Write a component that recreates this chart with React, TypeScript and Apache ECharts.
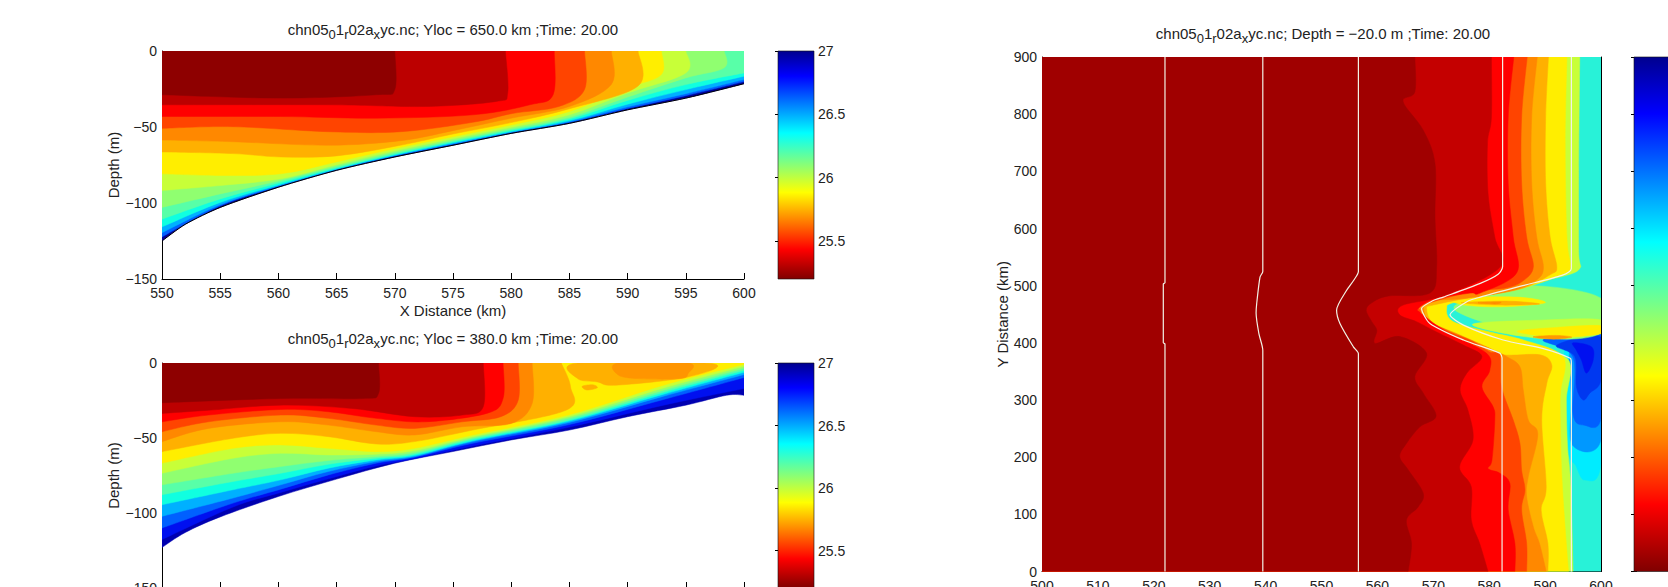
import React, { useEffect, useRef } from "react";
import * as echarts from "echarts";

type Pt = number[];

// Shared contour-level colours (jet, reversed, as in the reference colour bar)
const C = {
  dark: "#8e0000", dark3: "#a00000", maroon: "#bc0000", red: "#ff0000", redOrange: "#ff4400",
  orange: "#ff8800", amber: "#ffb000", yellow: "#ffee00", lime: "#c8ff38", green: "#90ff70",
  sea: "#58ffa8", aqua: "#10ffe0", sky: "#00b0ff", blue: "#0060ff", deep: "#0010f0", navy: "#00009a",
};
const colorbarStops: [number, string][] = [
  [0, "#00008f"], [0.11, "#0000ff"], [0.36, "#00ffff"], [0.62, "#ffff00"], [0.87, "#ff0000"], [1, "#800000"],
];

const cbTicks = [25.5, 26, 26.5, 27];
const cbTicks3 = [25.2, 25.4, 25.6, 25.8, 26, 26.2, 26.4, 26.6, 26.8, 27];

// Panel 1 (Yloc = 650 km): sea floor and isotherms, km / m
const p1Bottom: Pt[] = [[600,-21.5],[595,-31],[590,-38.7],[585,-47.6],[580,-54.2],[575,-62],[570,-69.7],[565,-78.5],[560,-89.6],[555,-102.9],[552,-114],[550,-125]];
const p1Blue: Pt[] = [[600,-20.1],[595,-29.4],[590,-37.8],[585,-47.1],[580,-53.8],[575,-61.5],[570,-69.2],[565,-78.1],[560,-89.2],[555,-102],[550,-122.3]];
const p1Sky: Pt[] = [[600,-18.8],[595,-28.1],[590,-36.7],[585,-46.5],[580,-53.5],[575,-61.1],[570,-68.8],[565,-77.9],[560,-88.7],[555,-101.1],[550,-119.5]];
const p1Aqua: Pt[] = [[600,-16.6],[595,-25.4],[590,-35],[585,-45.8],[580,-52.9],[575,-60.4],[570,-68.4],[565,-77.4],[560,-88.1],[555,-99.6],[550,-115.7]];
const p1Sea: Pt[] = [[600,-14.4],[595,-22.1],[590,-32.5],[585,-44.7],[580,-52.2],[575,-59.7],[570,-67.7],[565,-76.8],[560,-86.9],[555,-97.3],[550,-110.6]];
const p1Green: Pt[] = [[598.3,0],[598.3,-11],[595,-17.7],[590,-30.3],[585,-43.6],[580,-51.3],[575,-58.8],[570,-66.8],[565,-75.9],[560,-85.6],[555,-94],[550,-102.9]];
const p1Lime: Pt[] = [[595,0],[595,-14.4],[590,-27.7],[585,-42],[580,-50.2],[575,-57.7],[570,-65.7],[565,-74.8],[560.2,-84.1],[555,-88.5],[550,-91.8]];
const p1Yellow: Pt[] = [[592.9,0],[592.9,-15.5],[590,-24.3],[585,-39.8],[580,-48.7],[575,-56.4],[570,-64.2],[565,-73],[560.2,-80.8],[555,-81.9],[550,-80.8]];
const p1Amber: Pt[] = [[590.9,0],[590.9,-23],[585,-38],[580,-47.1],[575,-54.6],[570.5,-62],[565,-69],[560.2,-69.7],[556.1,-67.5],[550,-66.4]];
const p1Orange: Pt[] = [[588.6,0],[588.6,-22],[585,-36.5],[580,-44.2],[575,-52.4],[570.5,-59],[564.3,-62],[556.1,-59.7],[550,-58.6]];
const p1RedOrange: Pt[] = [[586.3,0],[586.3,-25.4],[584.1,-36.5],[580.1,-41.1],[576.7,-46.9],[570.5,-53.1],[564.3,-53.1],[556.1,-49.8],[550,-50.9]];
const p1Red: Pt[] = [[583.7,0],[583.6,-28.8],[581.6,-35.4],[576.7,-42],[568.4,-44.2],[560.2,-43.1],[550,-43.1]];
const p1Maroon: Pt[] = [[579.5,0],[579.7,-27.7],[578.7,-33.2],[572.6,-36.5],[564.3,-35.4],[550,-35.4]];
const p1Dark: Pt[] = [[570,0],[570,-25.4],[568.4,-28.8],[560.2,-31],[550,-28.8]];

// Panel 2 (Yloc = 380 km)
const p2Bottom: Pt[] = [[600,-21.5],[598.5,-21.5],[595,-28.1],[590,-35.8],[585,-44.7],[580,-51.3],[575,-59],[570,-66.8],[565,-77.4],[560,-89],[555,-102.6],[552,-113],[550,-123]];
const p2Deep: Pt[] = [[600,-17],[593.1,-28.1],[584.9,-42.9],[576.7,-55.3],[571.7,-63.7],[568.4,-68.6],[564.3,-77.2],[560.2,-86.3],[556.1,-96],[550,-117.7]];
const p2Blue: Pt[] = [[600,-9.7],[593.1,-24.3],[584.9,-41.2],[576.7,-53.5],[571.7,-62.8],[568.4,-66.8],[564.3,-74.6],[560.2,-84.1],[556.1,-93.4],[550,-110]];
const p2Sky: Pt[] = [[600,-7.7],[593.1,-22.1],[584.9,-39.8],[576.7,-52.4],[571.7,-62.4],[568.4,-65.7],[564.3,-72.3],[560.2,-81.2],[556.1,-90],[550,-102.2]];
const p2Aqua: Pt[] = [[600,-6.2],[593.1,-20.8],[584.9,-38.9],[576.7,-51.8],[571.7,-61.7],[568.4,-64.6],[564.3,-70.1],[560.2,-77.9],[556.1,-84.5],[550,-94.5]];
const p2Sea: Pt[] = [[600,-4.9],[593.1,-19.5],[584.9,-38.1],[576.7,-50.9],[571.7,-60.8],[568.4,-63.5],[564.3,-67.5],[560.2,-73.5],[556.1,-79],[550,-87.8]];
const p2Green: Pt[] = [[600,-3.5],[593.1,-18.1],[584.9,-36.9],[576.7,-50],[571.7,-59.7],[568.4,-62.4],[564.3,-65],[560.2,-69],[556.1,-73.5],[550,-81.2]];
const p2Lime: Pt[] = [[600,-2.2],[593.1,-16.6],[584.9,-35.8],[576.7,-49.1],[571.7,-58.4],[568.4,-60.8],[564.3,-61.3],[560.2,-60.2],[556.1,-63.5],[550,-73.5]];
const p2Yellow: Pt[] = [[600,-0.9],[593.1,-14.8],[584.9,-34.7],[576.7,-48],[571.7,-56.9],[568.4,-59.1],[564.3,-56.9],[560.2,-54.6],[556.1,-56.9],[550,-66.8]];
const p2Amber: Pt[] = [[584.3,0],[585.1,-15.9],[584.7,-31.5],[576.7,-44.7],[571.7,-52.4],[568.4,-54],[564.3,-49.1],[560.2,-46.9],[556.1,-50.2],[550,-59.1]];
const p2Orange: Pt[] = [[581.8,0],[581.8,-27],[580,-40.3],[575.8,-42.5],[571.7,-48],[568.4,-45.8],[564.3,-41.4],[560.2,-39.2],[554,-43.6],[550,-52.4]];
const p2RedOrange: Pt[] = [[580.6,0],[580.6,-24.8],[579.1,-35.8],[575.8,-39.2],[571.7,-43.6],[568.4,-41.4],[564.3,-36.9],[560.2,-34.7],[554,-39.2],[550,-45.8]];
const p2Red: Pt[] = [[579.3,0],[579.3,-23.7],[577.9,-33.6],[572.6,-39.2],[568.4,-36.9],[564.3,-32.5],[560.2,-31],[554,-34.7],[550,-39.2]];
const p2Maroon: Pt[] = [[577.6,0],[577.6,-29.2],[575.8,-34.7],[571.7,-35.8],[566.3,-30.3],[560.2,-28.1],[554,-31.5],[550,-33.6]];
const p2Dark: Pt[] = [[568.6,0],[568.6,-20.4],[567.2,-23.7],[560.2,-23.7],[550,-26.5]];
const p2AmberRight: Pt[] = [[585.7,0],[585.7,-10.4],[587.4,-12.6],[589,-14.8],[595.2,-9.3],[597.2,-0.4]];
const p2OrangeBlob: Pt[] = [[589.2,0],[589.2,-8],[591,-10.4],[594.5,-10.4],[595.2,-7],[595.2,0]];
const p2AmberIslet: Pt[] = [[586.1,-15.5],[587,-14.5],[587.4,-16.5],[586.5,-18]];

// Panel 3 (Depth = -20 m): isotherm plan view, km / km
const p3Water: Pt[] = [[500,900],[600,900]];
const p3Aqua: Pt[] = [[593.6,390],[600,414],[600,189],[597.1,160],[595.5,185],[594,221]];
const p3Sky: Pt[] = [[594.7,400],[600,414],[600,230],[594.9,221],[594.7,300]];
const p3Blue: Pt[] = [[589.7,406],[600,414],[600,268],[597,256],[595,275],[595,375]];
const p3Deep: Pt[] = [[592.1,396],[600,410],[600,335],[598,312],[596.8,300],[595.6,323],[595.3,376]];
const p3Navyish: Pt[] = [[595,400],[598.3,393],[598.6,370],[597.4,347],[596.5,370],[595.6,387]];
const p3TongueGreen: Pt[] = [[587.3,500],[600,478],[600,417],[589,410],[574.2,455],[578,480]];
const p3TongueLime: Pt[] = [[577,432],[590,440],[600,440],[600,417],[589,408]];
const p3TongueYellow: Pt[] = [[585,420],[592,427],[600,430],[600,416],[592,410]];
const p3StreakYellow: Pt[] = [[574,478],[585,480],[590,470],[582,463],[575,467]];
const p3StreakAmber: Pt[] = [[575,470],[583,473],[589,468],[582,466]];
const p3StreakOrange: Pt[] = [[578,470],[582,471],[581,468]];
const p3IsletOrange: Pt[] = [[588,411],[592,413],[594.8,410],[592,406.5],[589,408]];
const p3Lime: Pt[] = [[596.2,900],[596,700],[596,560],[596.2,530],[593,516],[586,503],[576,480],[572,470],[571,445],[578,418],[585,395],[594,372],[593.8,300],[594,221],[594.6,149],[595,0]];
const p3Yellow: Pt[] = [[593.9,900],[593.6,749],[593.9,585],[594.5,533],[593,519],[586,496],[574.2,472],[572.4,460],[573.6,437],[580.1,419],[586.1,405],[593.2,376],[592.8,317],[592.7,282],[593,166],[593.8,49],[594.2,0]];
const p3Amber: Pt[] = [[590.6,900],[590.1,795],[590.1,679],[590.9,585],[592.1,533],[590.9,519],[585.5,494],[576,478],[570,466],[568.8,460],[570,434],[574.8,413],[579.5,393],[582.5,379],[589.1,379],[591.2,361],[590.3,329],[589.4,265],[590.2,148],[589.3,107],[590.5,49],[590.5,0]];
const p3Orange: Pt[] = [[588.6,900],[587.6,795],[587.6,679],[588.5,585],[589.7,533],[588.5,510],[584.3,492],[576,478],[569.1,473],[568.3,460],[569.4,437],[574.2,416],[579.5,393],[583.1,376],[585.5,358],[586.1,317],[587,265],[588.7,240],[587,166],[586.7,131],[587.9,78],[589,49],[590.2,0]];
const p3RedOrange: Pt[] = [[586.8,900],[585.8,795],[585.8,679],[586.7,585],[587.9,533],[586,508],[583,496],[576.6,489],[568.2,466],[567.8,455],[568.2,444],[573,419],[577.2,402],[580.1,384],[581.9,379],[582.2,323],[584.3,265],[585.5,224],[585.8,177],[586.4,143],[585.8,108],[586.7,49],[586.7,0]];
const p3Red: Pt[] = [[584.4,900],[583.4,795],[583.4,679],[584.3,585],[584.9,522],[578.4,487],[576.6,487],[570,476],[567.3,460],[567.9,451],[572.4,419],[579.5,382],[580.1,352],[578.7,323],[580.7,288],[581,265],[580.5,195],[579.8,180],[581.9,172],[583.7,154],[583.4,108],[584.6,49],[584.6,0]];
const p3Maroon: Pt[] = [[580.4,900],[580.4,795],[579.7,749],[579.8,661],[581,585],[582,533],[572.4,484],[564.6,466],[564,449],[567,437],[570.6,419],[575.4,396],[578.7,376],[576,347],[574.8,317],[576.2,282],[577.1,230],[574.7,183],[576.8,148],[576.8,90],[578.3,49],[579.8,0]];
const p3Dark: Pt[] = [[566.7,900],[566.7,839],[564.6,822],[568.2,772],[570.3,714],[570.3,620],[570.6,533],[569.4,487],[562,482],[559,470],[558,457],[559,437],[559.9,422],[559.6,399],[564,411],[568.8,382],[566.7,341],[568.2,312],[570.5,272],[567.6,253],[565.2,224],[564,201],[565.5,178],[568.2,137],[567.3,113],[565.2,90],[566.1,49],[565.5,0]];

// White bathymetry contours in panel 3
const p3Line1: Pt[] = [[522,900],[522,505],[521.7,503],[521.7,400],[522,398],[522,0]];
const p3Line2: Pt[] = [[539.5,900],[539.5,525],[539,515],[538.4,468],[538.3,452],[538.8,416],[539.5,387],[539.5,0]];
const p3Line3: Pt[] = [[556.6,900],[556.6,525],[555.8,510],[554.5,492],[552.7,457],[553.3,434],[555.7,393],[556.6,381],[556.6,0]];
const p3Line4: Pt[] = [[582.4,900],[582.4,533],[581.6,520],[578.4,504],[571.8,480],[570,474],[567.9,460],[569.4,434],[575.4,405],[581.9,382],[582.3,373],[582.3,0]];
const p3Line5: Pt[] = [[594.7,900],[594.7,530],[593,518],[586,500],[578.4,480],[576,472],[573,449],[575.4,431],[582.5,405],[589.7,390],[594.5,373],[594.7,365],[594.7,0]];

const top12: Pt[] = [[550, 0]];
const top12R: Pt[] = [[550, 0], [600, 0]];
const side3: Pt[] = [[500, 0], [500, 900]];
const water3: Pt[] = [[600, 0], [500, 0]];

type Band = [Pt[], string, Pt[] | null];
const p1Bands: Band[] = [
  [p1Bottom, C.navy, top12R], [p1Blue, C.blue, top12R], [p1Sky, C.sky, top12R], [p1Aqua, C.aqua, top12R],
  [p1Sea, C.sea, top12R], [p1Green, C.green, top12], [p1Lime, C.lime, top12], [p1Yellow, C.yellow, top12],
  [p1Amber, C.amber, top12], [p1Orange, C.orange, top12], [p1RedOrange, C.redOrange, top12],
  [p1Red, C.red, top12], [p1Maroon, C.maroon, top12], [p1Dark, C.dark, top12],
];
const p2Bands: Band[] = [
  [p2Bottom, "#0000b0", top12R], [p2Deep, C.deep, top12R], [p2Blue, C.blue, top12R], [p2Sky, C.sky, top12R],
  [p2Aqua, C.aqua, top12R], [p2Sea, C.sea, top12R], [p2Green, C.green, top12R], [p2Lime, C.lime, top12R],
  [p2Yellow, C.yellow, top12R], [p2AmberRight, C.amber, null], [p2OrangeBlob, "#ff9500", null], [p2AmberIslet, C.amber, null],
  [p2Amber, C.amber, top12], [p2Orange, C.orange, top12], [p2RedOrange, C.redOrange, top12],
  [p2Red, C.red, top12], [p2Maroon, C.maroon, top12], [p2Dark, C.dark, top12],
];
const p3Bands: Band[] = [
  [p3Water, "#28f2d8", water3], [p3Aqua, "#00ecff", null], [p3Sky, "#0098ff", null], [p3Blue, C.blue, null], [p3Deep, "#0038f0", null],
  [p3Navyish, C.deep, null], [p3TongueGreen, C.green, null], [p3TongueLime, C.lime, null], [p3TongueYellow, C.yellow, null],
  [p3IsletOrange, "#ff9900", null], [p3StreakYellow, C.yellow, null], [p3StreakAmber, C.amber, null], [p3StreakOrange, C.orange, null],
  [p3Lime, C.lime, side3], [p3Yellow, C.yellow, side3], [p3Amber, C.amber, side3],
  [p3Orange, C.orange, side3], [p3RedOrange, C.redOrange, side3], [p3Red, C.red, side3],
  [p3Maroon, "#c40000", side3], [p3Dark, C.dark3, side3],
];

const FONT = "'Liberation Sans', Arial, sans-serif";
const TXT = "#222";
const FS = 14;
const NAME_FS = 15;
const minus = (v: number) => String(v).replace("-", "\u2212");

// Catmull-Rom style bezier outline through the read points; the straight closure runs along the axes.
const outline = (pix: number[][], closed: boolean, corners: number[][]) => {
  const n = pix.length;
  const at = (i: number) => (closed ? pix[(i + n) % n] : pix[Math.max(0, Math.min(n - 1, i))]);
  let d = `M${pix[0][0]} ${pix[0][1]}`;
  const k = 1 / 6;
  const segs = closed ? n : n - 1;
  for (let i = 0; i < segs; i++) {
    const p0 = at(i - 1), p1 = at(i), p2 = at(i + 1), p3 = at(i + 2);
    const c1 = [p1[0] + (p2[0] - p0[0]) * k, p1[1] + (p2[1] - p0[1]) * k];
    const c2 = [p2[0] - (p3[0] - p1[0]) * k, p2[1] - (p3[1] - p1[1]) * k];
    d += ` C${c1[0]} ${c1[1]} ${c2[0]} ${c2[1]} ${p2[0]} ${p2[1]}`;
  }
  corners.forEach((c) => { d += ` L${c[0]} ${c[1]}`; });
  return d + " Z";
};

const bandSeries = (bands: Band[], ax: number) => ({
  type: "custom", xAxisIndex: ax, yAxisIndex: ax, silent: true, clip: true,
  data: bands.map((b) => b[0][0]),
  renderItem: (params: any, api: any) => {
    const [pts, fill, corner] = bands[params.dataIndex];
    const d = outline(pts.map((p) => api.coord(p)), corner === null, (corner || []).map((p) => api.coord(p)));
    return { type: "path", shape: { pathData: d }, style: { fill, stroke: fill, lineWidth: 0.5 } };
  },
});

const lineSeries = (data: Pt[], ax: number, color: string, width: number) => ({
  type: "line", xAxisIndex: ax, yAxisIndex: ax, data, symbol: "none", silent: true, z: 5, smooth: 0.25,
  lineStyle: { color, width }, clip: true,
});

const colorbar = (xIdx: number, yIdx: number) => ({
  type: "custom", xAxisIndex: xIdx, yAxisIndex: yIdx, silent: true,
  data: [[0, 27]],
  renderItem: (_p: any, api: any) => {
    const a = api.coord([0, 27]);
    const b = api.coord([1, 25.2]);
    return {
      type: "rect", shape: { x: a[0], y: a[1], width: b[0] - a[0], height: b[1] - a[1] },
      style: {
        fill: new echarts.graphic.LinearGradient(0, 0, 0, 1, colorbarStops.map(([offset, color]) => ({ offset, color }))),
        stroke: "#111", lineWidth: 0.6,
      },
    };
  },
});

const titleRich = { s: { fontSize: 13, fontFamily: FONT, color: TXT, padding: [10, 0, 0, 0] } };
const mkTitle = (text: string, left: number, top: number) => ({
  text, left, top, textAlign: "center", padding: 0,
  textStyle: { fontFamily: FONT, fontSize: 15, fontWeight: "normal", color: TXT, rich: titleRich },
});

const valueAxisBase = {
  type: "value", splitLine: { show: false },
  axisLine: { show: true, onZero: false, lineStyle: { color: "#000", width: 1 } },
  axisTick: { show: true, inside: true, length: 6, lineStyle: { color: "#000", width: 1 } },
  axisLabel: { fontFamily: FONT, fontSize: FS, color: TXT, margin: 5, formatter: minus },
  nameTextStyle: { fontFamily: FONT, fontSize: NAME_FS, color: TXT },
};
const xLabel = { ...valueAxisBase.axisLabel, margin: 7 };

const cbY = (gridIndex: number, position: string, ticks: number[], labels: boolean) => ({
  ...valueAxisBase, gridIndex, position, min: 25.2, max: 27,
  axisLine: { show: false },
  axisTick: { show: true, inside: true, length: 3, customValues: ticks, lineStyle: { color: "#000", width: 1 } },
  axisLabel: { show: labels, customValues: ticks, fontFamily: FONT, fontSize: FS, color: TXT, margin: 4 },
});
const cbX = (gridIndex: number) => ({ type: "value", gridIndex, min: 0, max: 1, show: false });
const gridBox = (left: number, top: number, width: number, height: number) => ({
  left, top, width, height, outerBoundsMode: "none",
});

export default function App() {
  const ref = useRef<HTMLDivElement>(null);
  useEffect(() => {
    document.body.style.margin = "0";
    const chart = echarts.init(ref.current!, undefined, { renderer: "svg" });
    chart.setOption({
      animation: false,
      backgroundColor: "#fff",
      title: [
        mkTitle("chn05{s|0}1{s|r}02a{s|x}yc.nc; Yloc = 650.0 km ;Time: 20.00", 453, 18),
        mkTitle("chn05{s|0}1{s|r}02a{s|x}yc.nc; Yloc = 380.0 km ;Time: 20.00", 453, 327),
        mkTitle("chn05{s|0}1{s|r}02a{s|x}yc.nc; Depth = \u221220.0 m ;Time: 20.00", 1323, 22),
      ],
      grid: [
        gridBox(162, 51, 582, 228),
        gridBox(162, 363, 582, 225),
        gridBox(1042, 57, 559, 514.5),
        gridBox(778, 51, 36, 228),
        gridBox(778, 363, 36, 225),
        gridBox(1634, 57, 36, 514.5),
      ],
      xAxis: [
        { ...valueAxisBase, gridIndex: 0, min: 550, max: 600, interval: 5, axisLabel: xLabel, name: "X Distance (km)", nameLocation: "middle", nameGap: 24 },
        { ...valueAxisBase, gridIndex: 1, min: 550, max: 600, interval: 5, axisLabel: { show: false } },
        { ...valueAxisBase, gridIndex: 2, min: 500, max: 600, interval: 10, axisLabel: xLabel },
        cbX(3), cbX(4), cbX(5),
      ],
      yAxis: [
        { ...valueAxisBase, gridIndex: 0, min: -150, max: 0, interval: 50, name: "Depth (m)", nameLocation: "middle", nameGap: 41, nameRotate: 90 },
        { ...valueAxisBase, gridIndex: 1, min: -150, max: 0, interval: 50, name: "Depth (m)", nameLocation: "middle", nameGap: 41, nameRotate: 90 },
        { ...valueAxisBase, gridIndex: 2, min: 0, max: 900, interval: 100, name: "Y Distance (km)", nameLocation: "middle", nameGap: 30, nameRotate: 90 },
        cbY(3, "right", cbTicks, true), cbY(4, "right", cbTicks, true), cbY(5, "right", cbTicks3, false),
        cbY(3, "left", cbTicks, false), cbY(4, "left", cbTicks, false), cbY(5, "left", cbTicks3, false),
        { ...valueAxisBase, gridIndex: 2, position: "right", min: 0, max: 900, interval: 100, axisTick: { show: false }, axisLabel: { show: false } },
      ],
      series: [
        bandSeries(p1Bands, 0),
        bandSeries(p2Bands, 1),
        bandSeries(p3Bands, 2),
        lineSeries(p1Bottom, 0, "#000", 1),
        lineSeries(p3Line1, 2, "#f2f2e6", 1.2),
        lineSeries(p3Line2, 2, "#f2f2e6", 1.2),
        lineSeries(p3Line3, 2, "#f2f2e6", 1.2),
        lineSeries(p3Line4, 2, "#f2f2e6", 1.2),
        lineSeries(p3Line5, 2, "#f2f2e6", 1.2),
        colorbar(3, 3),
        colorbar(4, 4),
        colorbar(5, 5),
      ],
    });
    return () => chart.dispose();
  }, []);
  return <div ref={ref} style={{ width: 1668, height: 587 }} />;
}
